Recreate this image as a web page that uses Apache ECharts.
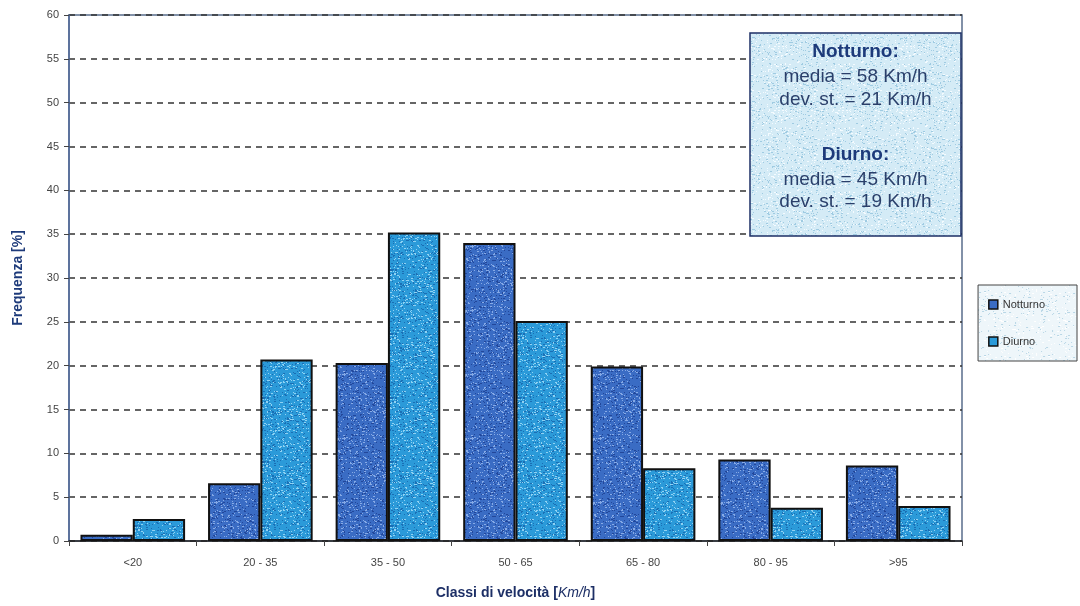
<!DOCTYPE html>
<html>
<head>
<meta charset="utf-8">
<script src="https://cdn.jsdelivr.net/npm/echarts@6/dist/echarts.min.js"></script>
<style>
  html, body { margin: 0; padding: 0; background: #fff; }
  #chart { width: 1080px; height: 606px; }
</style>
</head>
<body>
<div id="chart"></div>
<script>
// Speed classes and frequency (%) per period
const categories = ['<20', '20 - 35', '35 - 50', '50 - 65', '65 - 80', '80 - 95', '>95'];
const notturno = [0.7, 6.6, 20.3, 34.0, 19.9, 9.3, 8.6];
const diurno = [2.5, 20.7, 35.2, 25.1, 8.3, 3.8, 4.0];
const yTicks = [0, 5, 10, 15, 20, 25, 30, 35, 40, 45, 50, 55, 60];
const statsLines = [
  { text: 'Notturno:', bold: true },
  { text: 'media = 58 Km/h' },
  { text: 'dev. st. = 21 Km/h' },
  { text: 'Diurno:', bold: true },
  { text: 'media = 45 Km/h' },
  { text: 'dev. st. = 19 Km/h' }
];

// Speckled fill, like a printed texture
function speckle(base, light, dark, seed, count) {
  const c = document.createElement('canvas');
  c.width = 64; c.height = 64;
  const g = c.getContext('2d');
  g.fillStyle = base; g.fillRect(0, 0, 64, 64);
  let s = seed;
  const rnd = () => { s = (s * 1103515245 + 12345) % 2147483648; return s / 2147483648; };
  for (let i = 0; i < count; i++) {
    g.fillStyle = rnd() < 0.5 ? light : dark;
    g.fillRect(Math.floor(rnd() * 64), Math.floor(rnd() * 64), 1 + (rnd() < 0.3 ? 1 : 0), 1);
  }
  return c;
}

const nightFill = { image: speckle('#3a6cc4', '#86aae6', '#22479a', 11, 700), repeat: 'repeat' };
const dayFill = { image: speckle('#2b9ad9', '#8fd2f3', '#1a6eb4', 23, 700), repeat: 'repeat' };
const boxBg = { image: speckle('#d4ebf6', '#f4fbff', '#9fcbe2', 7, 500), repeat: 'repeat' };
const legendBg = { image: speckle('#eef6fa', '#ffffff', '#b9d7e6', 5, 300), repeat: 'repeat' };

const chart = echarts.init(document.getElementById('chart'));

// Statistics box drawn above the grid lines
const BOX_X = 750, BOX_Y = 33, BOX_W = 211, BOX_H = 203;
const lineY = [19, 44, 67, 122, 147, 169];
const statsGraphic = [{
  type: 'rect', z: 100, zlevel: 0,
  shape: { x: BOX_X, y: BOX_Y, width: BOX_W, height: BOX_H },
  style: { fill: boxBg, stroke: '#1d2f66', lineWidth: 1.5 }
}];
statsLines.forEach((l, i) => {
  statsGraphic.push({
    type: 'text', z: 101,
    style: {
      text: l.text,
      x: BOX_X + BOX_W / 2, y: BOX_Y + lineY[i],
      align: 'center', verticalAlign: 'middle',
      font: (l.bold ? 'bold 19px' : '19px') + ' "Liberation Sans", Arial, sans-serif',
      fill: l.bold ? '#1d3a7a' : '#2a3f6a'
    }
  });
});

chart.setOption({
  animation: false,
  backgroundColor: '#ffffff',
  grid: {
    left: 69, right: 118, top: 15, bottom: 65,
    show: true, borderColor: '#5a6d8c', borderWidth: 1.5, backgroundColor: 'transparent'
  },
  legend: {
    orient: 'vertical',
    right: 3, top: 285,
    padding: [14, 32, 14, 10],
    itemGap: 26,
    itemWidth: 9, itemHeight: 9,
    icon: 'rect',
    backgroundColor: legendBg,
    borderColor: '#444',
    borderWidth: 1,
    textStyle: { fontFamily: '"Liberation Sans", Arial, sans-serif', fontSize: 11, color: '#333' },
    data: [
      { name: 'Notturno', itemStyle: { color: '#3a6cc4', borderColor: '#111', borderWidth: 1.5 } },
      { name: 'Diurno', itemStyle: { color: '#2b9ad9', borderColor: '#111', borderWidth: 1.5 } }
    ]
  },
  xAxis: {
    type: 'category',
    data: categories,
    name: '{b|Classi di velocità [}{i|Km/h}{b|]}',
    nameLocation: 'middle',
    nameGap: 45,
    nameTextStyle: {
      rich: {
        b: { fontFamily: '"Liberation Sans", Arial, sans-serif', fontWeight: 'bold', fontSize: 14, color: '#1d2f66' },
        i: { fontFamily: '"Liberation Sans", Arial, sans-serif', fontStyle: 'italic', fontSize: 14, color: '#1d2f66' }
      }
    },
    axisLine: { lineStyle: { color: '#222', width: 1.5 } },
    axisTick: { show: true, alignWithLabel: false, length: 5, lineStyle: { color: '#444' } },
    axisLabel: { fontFamily: '"Liberation Sans", Arial, sans-serif', fontSize: 11, color: '#444', margin: 16 }
  },
  yAxis: {
    type: 'value',
    min: yTicks[0], max: yTicks[yTicks.length - 1], interval: 5,
    name: 'Frequenza [%]',
    nameLocation: 'middle',
    nameGap: 44,
    nameTextStyle: { fontFamily: '"Liberation Sans", Arial, sans-serif', fontWeight: 'bold', fontSize: 14, color: '#1d3a7a' },
    axisLine: { show: true, lineStyle: { color: '#506a9a', width: 1.5 } },
    axisTick: { show: true, length: 5, lineStyle: { color: '#444' } },
    axisLabel: { fontFamily: '"Liberation Sans", Arial, sans-serif', fontSize: 11, color: '#444', margin: 10 },
    splitLine: { show: true, lineStyle: { color: '#333', type: [6, 5], width: 1.5 } }
  },
  series: [
    {
      name: 'Notturno', type: 'bar', data: notturno,
      barGap: '0%', barCategoryGap: '18%',
      itemStyle: { color: nightFill, borderColor: '#111', borderWidth: 2 }
    },
    {
      name: 'Diurno', type: 'bar', data: diurno,
      barGap: '0%', barCategoryGap: '18%',
      itemStyle: { color: dayFill, borderColor: '#111', borderWidth: 2 }
    }
  ],
  graphic: { elements: statsGraphic }
});
</script>
</body>
</html>
